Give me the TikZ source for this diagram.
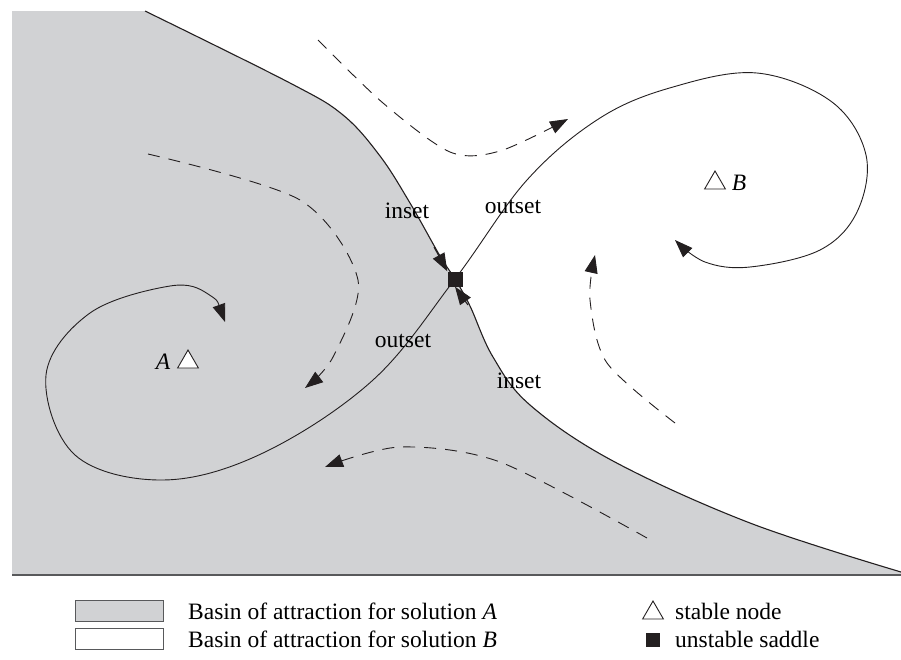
\documentclass[tikz,border=0pt]{standalone}
\usepackage{fontspec}
\setmainfont{Liberation Serif}
\usetikzlibrary{arrows.meta,shapes.geometric}
\definecolor{basin}{HTML}{D1D2D4}
\definecolor{ink}{HTML}{231F20}
\definecolor{rule}{HTML}{58595B}
\begin{document}
\begin{tikzpicture}[x=1pt,y=-1pt,
  traj/.style={draw=ink,line width=0.9pt},
  sepline/.style={draw=ink,line width=1.1pt},
  flow/.style={draw=ink,line width=0.9pt,dash pattern=on 12pt off 9pt},
  tip/.style={-{Triangle[length=18pt,width=13pt]}},
  twotips/.style={{Triangle[length=18pt,width=13pt]}-{Triangle[length=18pt,width=13pt]}},
  lab/.style={font=\fontsize{23.5}{28}\selectfont,inner sep=0pt,anchor=base},
  stablenode/.style={regular polygon,regular polygon sides=3,draw=ink,fill=white,line width=0.9pt,minimum size=24pt,inner sep=0pt},
  saddlenode/.style={rectangle,fill=ink,minimum size=15pt,inner sep=0pt},
  keybox/.style={draw=rule,line width=0.8pt,minimum width=88pt,minimum height=21pt,inner sep=0pt}]
\useasboundingbox (0,0) rectangle (901,659);
% basin of A
\fill[basin] plot[smooth,tension=0.6] coordinates {(145,11) (290,83) (343,115) (380,156) (410,203) (440,256) (455,279) (470,306) (493,357) (530,405) (613,461) (750,523) (901,572)} -- (901,575) -- (12,575) -- (12,11) -- cycle;
% separatrix (insets)
\draw[sepline] plot[smooth,tension=0.6] coordinates {(145,11) (290,83) (343,115) (380,156) (410,203) (440,256) (455,279) (470,306) (493,357) (530,405) (613,461) (750,523) (901,572)};
\draw[rule,line width=1.3pt] (12,575) -- (901,575);
% saddle
\node[saddlenode] (S) at (455,279) {};
\draw[sepline,tip] (434,247) -- (S.north west);
\draw[sepline,tip] (468,305) -- (S.south);
% outsets
\draw[traj,twotips] plot[smooth,tension=0.6] coordinates {(225,322) (208,294) (170,286) (90,313) (46,375) (75,455) (163,480) (263,453) (373,380) (455,279) (527,180) (600,118) (673,87) (757,73) (832,102) (866,155) (857,212) (820,250) (750,267) (705,262) (675,240)};
\node[saddlenode] at (S) {};
% dashed flows
\draw[flow,tip] plot[smooth] coordinates {(318,40) (383,103) (450,152) (500,151) (568,119)};
\draw[flow,tip] plot[smooth] coordinates {(148,154) (300,200) (358,280) (333,357) (305,388)};
\draw[flow,tip] plot[smooth] coordinates {(647,538) (500,462) (400,447) (325,467)};
\draw[flow,tip] plot[smooth] coordinates {(675,423) (607,363) (590,300) (595,255)};
% labels
\node[lab] (in1) at (407,218) {inset};
\node[lab] (out1) at (513,213) {outset};
\node[lab] (out2) at (403,347) {outset};
\node[lab] (in2) at (519,388) {inset};
% stable nodes
\node[lab] (Alab) at (163,369) {\itshape A};
\node[stablenode] (A) at (188,362) {};
\node[stablenode] (B) at (715,183) {};
\node[lab] (Blab) at (739,190) {\itshape B};
% legend
\node[keybox,fill=basin] (k1) at (119,611) {};
\node[keybox,fill=white] (k2) at (119,639) {};
\node[lab,anchor=base west] (t1) at (188,619) {Basin of attraction for solution \textit{A}};
\node[lab,anchor=base west] (t2) at (188,647) {Basin of attraction for solution \textit{B}};
\node[stablenode] (k3) at (653,613) {};
\node[saddlenode,minimum size=14pt] (k4) at (653,640) {};
\node[lab,anchor=base west] (t3) at (675,619) {stable node};
\node[lab,anchor=base west] (t4) at (675,647) {unstable saddle};
\end{tikzpicture}
\end{document}
